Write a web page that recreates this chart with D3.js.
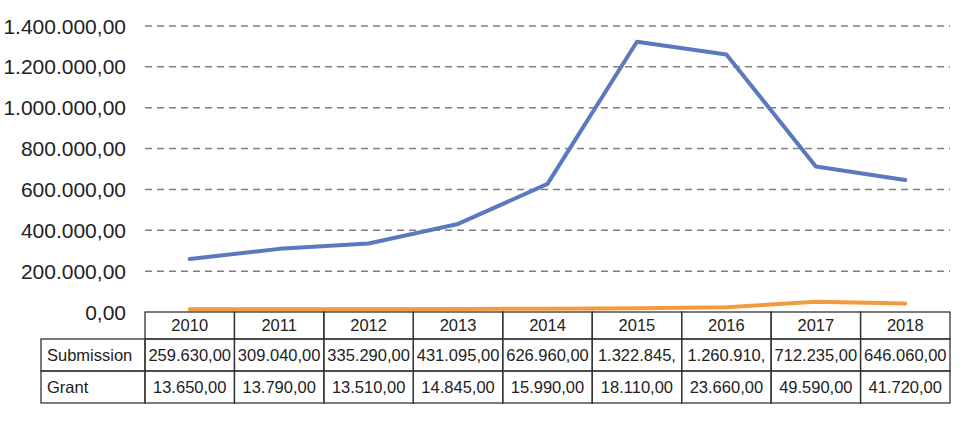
<!DOCTYPE html>
<html>
<head>
<meta charset="utf-8">
<script src="https://cdn.jsdelivr.net/npm/d3@7"></script>
<style>
  body { margin: 0; background: #fff; }
  text { font-family: "Liberation Sans", Arial, sans-serif; }
</style>
</head>
<body>
<script>
var years = ["2010", "2011", "2012", "2013", "2014", "2015", "2016", "2017", "2018"];
var submission = [259630, 309040, 335290, 431095, 626960, 1322845, 1260910, 712235, 646060];
var grant = [13650, 13790, 13510, 14845, 15990, 18110, 23660, 49590, 41720];
var submissionLabels = ["259.630,00", "309.040,00", "335.290,00", "431.095,00", "626.960,00", "1.322.845,", "1.260.910,", "712.235,00", "646.060,00"];
var grantLabels = ["13.650,00", "13.790,00", "13.510,00", "14.845,00", "15.990,00", "18.110,00", "23.660,00", "49.590,00", "41.720,00"];
var yTicks = [0, 200000, 400000, 600000, 800000, 1000000, 1200000, 1400000];

var svgW = 964, svgH = 424;
var plotLeft = 145, plotRight = 950;
var plotTop = 26, zeroY = 312;

var svg = d3.select("body").append("svg")
  .attr("width", svgW)
  .attr("height", svgH);

var xBand = d3.scaleBand().domain(years).range([plotLeft, plotRight]);
var x = d3.scalePoint().domain(years).range([plotLeft, plotRight]).padding(0.5);
var y = d3.scaleLinear().domain([0, 1400000]).range([zeroY, plotTop]);

function fmt(v) {
  return d3.format(",.2f")(v).replace(/,/g, "#").replace(/\./g, ",").replace(/#/g, ".");
}

// gridlines
svg.append("g").selectAll("line")
  .data(yTicks.filter(function (d) { return d > 0; }))
  .enter().append("line")
  .attr("x1", plotLeft).attr("x2", plotRight)
  .attr("y1", function (d) { return y(d); })
  .attr("y2", function (d) { return y(d); })
  .attr("stroke", "#7f7f7f")
  .attr("stroke-width", 1.5)
  .attr("stroke-dasharray", "7,5");

// y labels
svg.append("g").selectAll("text")
  .data(yTicks)
  .enter().append("text")
  .attr("x", 126)
  .attr("y", function (d) { return y(d); })
  .attr("dy", "0.36em")
  .attr("text-anchor", "end")
  .attr("font-size", 21)
  .attr("fill", "#222")
  .text(fmt);

// lines
var line = d3.line()
  .x(function (d, i) { return x(years[i]); })
  .y(function (d) { return y(d); });

svg.append("path")
  .datum(grant)
  .attr("d", line)
  .attr("fill", "none")
  .attr("stroke", "#F29B3E")
  .attr("stroke-width", 4)
  .attr("stroke-linejoin", "round")
  .attr("stroke-linecap", "round");

svg.append("path")
  .datum(submission)
  .attr("d", line)
  .attr("fill", "none")
  .attr("stroke", "#5A79BE")
  .attr("stroke-width", 4)
  .attr("stroke-linejoin", "round")
  .attr("stroke-linecap", "round");

// data table
var rowTops = [312, 339, 371];
var rowBottoms = [339, 371, 403];
var labelLeft = 41;
var table = svg.append("g");
var stroke = "#333";
var fs = 16.5;

// header row cells
table.selectAll(".hdr")
  .data(years)
  .enter().append("rect")
  .attr("x", function (d) { return xBand(d); })
  .attr("y", rowTops[0])
  .attr("width", xBand.bandwidth())
  .attr("height", rowBottoms[0] - rowTops[0])
  .attr("fill", "none").attr("stroke", stroke).attr("stroke-width", 1.3);

table.selectAll(".hdrText")
  .data(years)
  .enter().append("text")
  .attr("x", function (d) { return xBand(d) + xBand.bandwidth() / 2; })
  .attr("y", (rowTops[0] + rowBottoms[0]) / 2)
  .attr("dy", "0.36em")
  .attr("text-anchor", "middle")
  .attr("font-size", fs)
  .attr("fill", "#222")
  .text(function (d) { return d; });

var rows = [
  { name: "Submission", labels: submissionLabels },
  { name: "Grant", labels: grantLabels }
];

rows.forEach(function (r, ri) {
  var top = rowTops[ri + 1], bot = rowBottoms[ri + 1];
  table.append("rect")
    .attr("x", labelLeft).attr("y", top)
    .attr("width", plotLeft - labelLeft).attr("height", bot - top)
    .attr("fill", "none").attr("stroke", stroke).attr("stroke-width", 1.3);
  table.append("text")
    .attr("x", labelLeft + 6).attr("y", (top + bot) / 2)
    .attr("dy", "0.36em")
    .attr("font-size", fs).attr("fill", "#222")
    .text(r.name);
  table.selectAll(".c" + ri)
    .data(years)
    .enter().append("rect")
    .attr("x", function (d) { return xBand(d); })
    .attr("y", top)
    .attr("width", xBand.bandwidth())
    .attr("height", bot - top)
    .attr("fill", "none").attr("stroke", stroke).attr("stroke-width", 1.3);
  table.selectAll(".t" + ri)
    .data(years)
    .enter().append("text")
    .attr("x", function (d) { return xBand(d) + xBand.bandwidth() / 2; })
    .attr("y", (top + bot) / 2)
    .attr("dy", "0.36em")
    .attr("text-anchor", "middle")
    .attr("font-size", fs)
    .attr("fill", "#222")
    .text(function (d, i) { return r.labels[i]; });
});
</script>
</body>
</html>
